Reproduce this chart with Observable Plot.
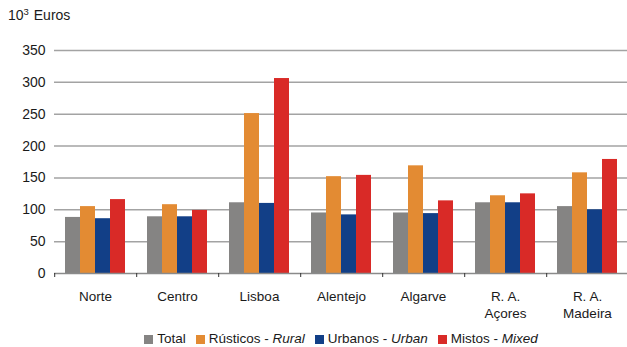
<!DOCTYPE html>
<html>
<head>
<meta charset="utf-8">
<script src="https://cdn.jsdelivr.net/npm/d3@7"></script>
<script src="https://cdn.jsdelivr.net/npm/@observablehq/plot@0.6"></script>
<style>
  html, body { margin: 0; padding: 0; background: #fff; }
  #wrap { position: relative; width: 627px; height: 347px; font-family: "Liberation Sans", Arial, sans-serif; color: #1a1a1a; }
  #title { position: absolute; left: 8px; top: 7px; font-size: 14px; line-height: 16px; }
  #title sup { font-size: 9.5px; vertical-align: 5px; line-height: 0; margin-right: 1px; }
  #chart { position: absolute; left: 0; top: 0; }
  #legend { position: absolute; left: 53px; width: 576px; top: 331px; text-align: center; font-size: 13.5px; line-height: 15px; white-space: nowrap; }
  .item { display: inline-block; margin: 0 5px; }
  .sw { display: inline-block; width: 9px; height: 9px; margin-right: 4px; vertical-align: -1px; }
</style>
</head>
<body>
<div id="wrap">
  <div id="chart"></div>
  <div id="title">10<sup>3</sup> Euros</div>
  <div id="legend"></div>
</div>
<script>
const regions = ["Norte", "Centro", "Lisboa", "Alentejo", "Algarve", "R. A.\nAçores", "R. A.\nMadeira"];
const series = ["Total", "Rústicos", "Urbanos", "Mistos"];
const seriesEn = ["", "Rural", "Urban", "Mixed"];
const total    = [88, 89, 111, 95, 95, 111, 105];
const rusticos = [105, 108, 251, 152, 169, 122, 158];
const urbanos  = [86, 89, 110, 92, 94, 111, 100];
const mistos   = [116, 99, 306, 154, 114, 125, 179];
const yTicks = [0, 50, 100, 150, 200, 250, 300, 350];
const colors = ["#858483", "#e38b33", "#123f87", "#d92a27"];

const valuesBySeries = [total, rusticos, urbanos, mistos];
const data = [];
regions.forEach((r, i) => {
  series.forEach((s, j) => data.push({region: r, series: s, value: valuesBySeries[j][i]}));
});

const chart = Plot.plot({
  width: 627,
  height: 325,
  marginLeft: 53,
  marginRight: -2,
  marginTop: 50,
  marginBottom: 52,
  style: {fontFamily: "'Liberation Sans', Arial, sans-serif", fontSize: "13px", color: "#1a1a1a", background: "transparent", overflow: "visible"},
  fx: {domain: regions, padding: 0, label: null, axis: null},
  x: {domain: series, paddingInner: 0, paddingOuter: 0.7, axis: null},
  y: {domain: [0, 350], axis: null},
  color: {domain: series, range: colors},
  marks: [
    Plot.ruleY(yTicks.filter(d => d > 0), {stroke: "#a3a3a3", strokeWidth: 1.5}),
    Plot.barY(data, {fx: "region", x: "series", y: "value", fill: "series"}),
    Plot.ruleY([0], {stroke: "#8a8a8a", strokeWidth: 1.5}),
    Plot.ruleX(regions, {fx: d => d, x: () => "Total", y1: 0, y2: -6.3, dx: -18.3, stroke: "#333", strokeWidth: 1}),
    Plot.axisY(yTicks, {tickSize: 0, tickPadding: 9, label: null, fontSize: 14}),
    Plot.axisFx({anchor: "bottom", tickSize: 0, tickPadding: 15, label: null, lineHeight: 1.28, fontSize: 13.5})
  ]
});
document.getElementById("chart").appendChild(chart);

const legend = document.getElementById("legend");
series.forEach((s, j) => {
  const item = document.createElement("span");
  item.className = "item";
  const sw = document.createElement("span");
  sw.className = "sw";
  sw.style.background = colors[j];
  item.appendChild(sw);
  item.appendChild(document.createTextNode(s));
  if (seriesEn[j]) {
    item.appendChild(document.createTextNode(" - "));
    const em = document.createElement("i");
    em.textContent = seriesEn[j];
    item.appendChild(em);
  }
  legend.appendChild(item);
});
</script>
</body>
</html>
